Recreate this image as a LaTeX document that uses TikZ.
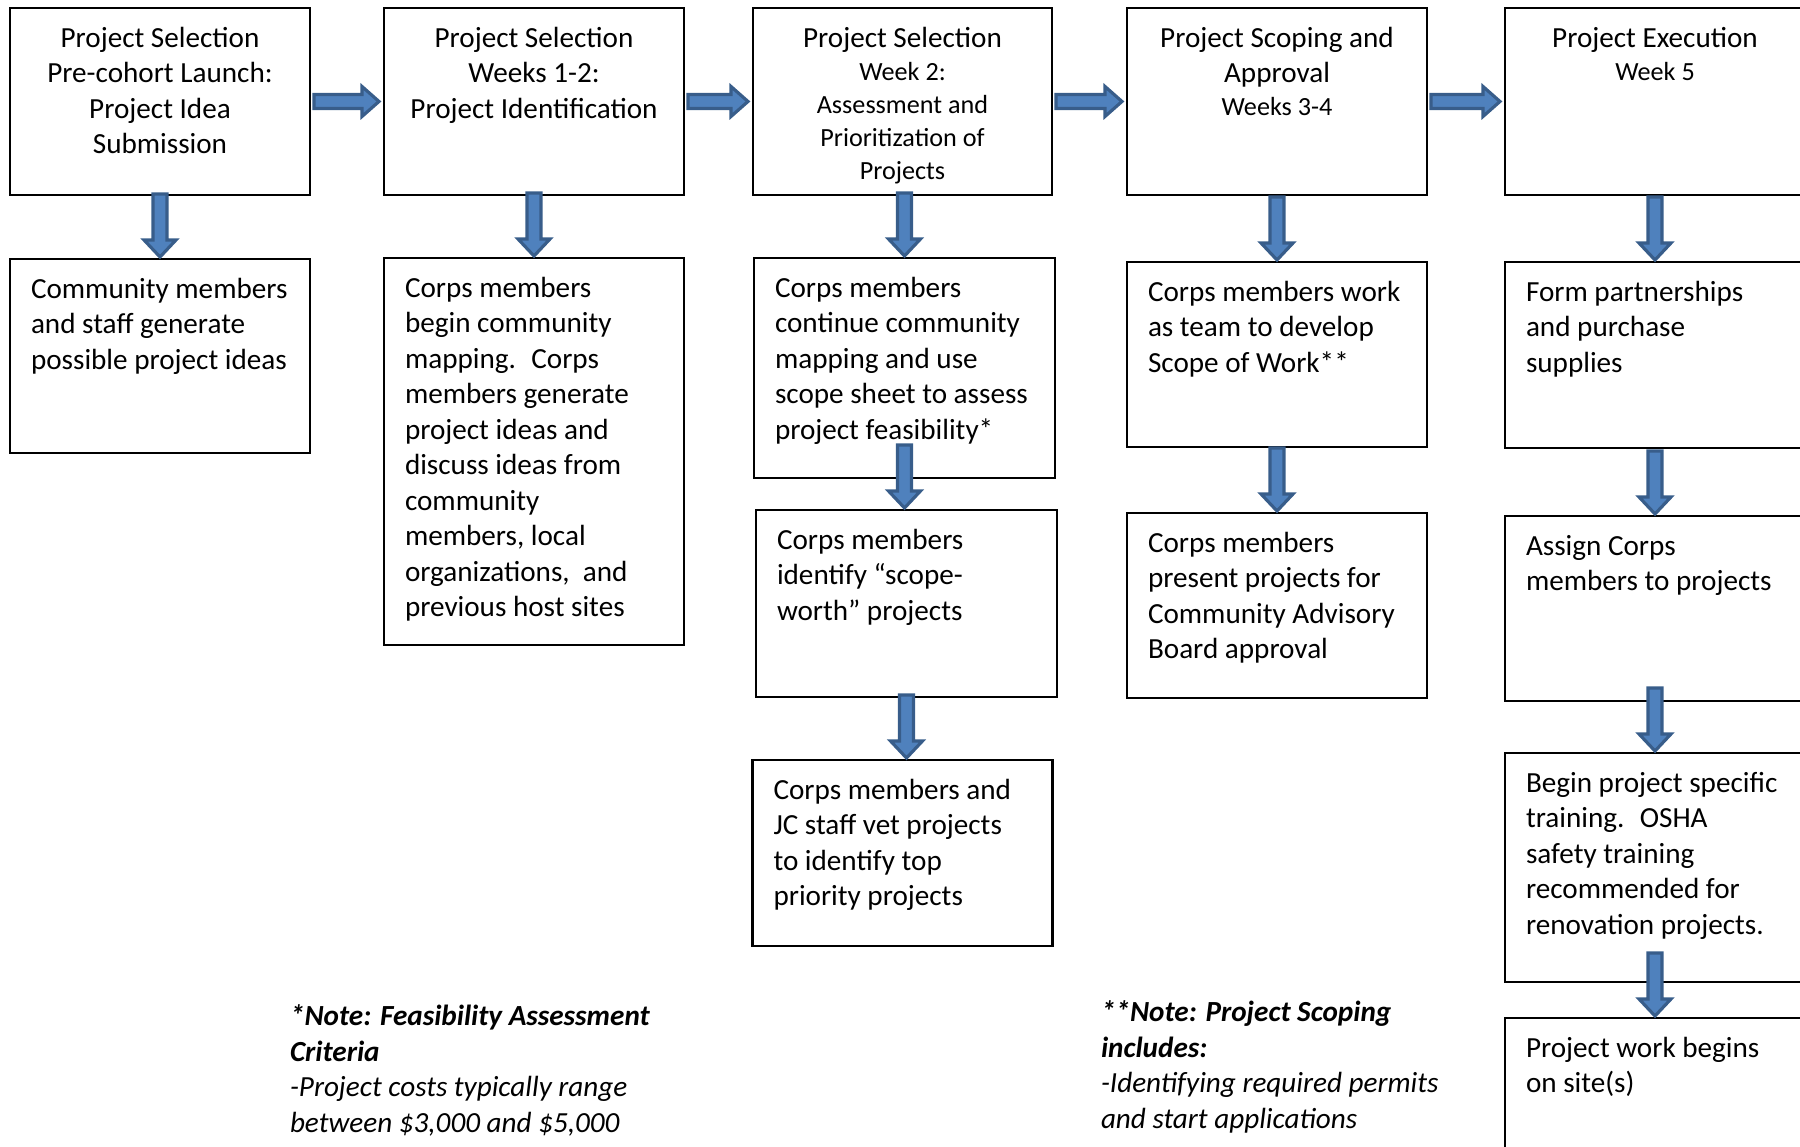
\documentclass[tikz,border=0pt]{standalone}
\usepackage{fontspec}
\setmainfont{Carlito}
\usepackage{tikz}
\usetikzlibrary{positioning,calc}

\definecolor{arrowfill}{HTML}{4F81BD}
\definecolor{arrowedge}{HTML}{385D8A}
\newcommand{\wkfont}{\fontsize{7.45pt}{9.4pt}\selectfont}

\begin{document}
\begin{tikzpicture}[outer sep=0pt,
    stage/.style={rectangle, draw, line width=0.7pt, minimum width=3cm, minimum height=1.87cm},
    task/.style={rectangle, draw, line width=0.7pt, minimum width=3cm},
    stagetext/.style={anchor=north, yshift=-0.19cm, inner sep=0pt, align=center, font=\fontsize{8.3pt}{10.1pt}\selectfont},
    tasktext/.style={anchor=north west, xshift=0.21cm, yshift=-0.19cm, inner sep=0pt, align=left, font=\fontsize{8.3pt}{10.1pt}\selectfont},
    notetext/.style={anchor=north west, inner sep=0pt, align=left, font=\fontsize{8.3pt}{10.1pt}\selectfont\itshape},
    downarrow/.style={draw=arrowedge, fill=arrowfill, line width=0.9pt, to path={let \p1=(\tikztostart), \p2=(\tikztotarget) in
        (\x1-0.07cm,\y2+0.65cm) -- (\x1-0.07cm,\y2+0.19cm) -- (\x1-0.16cm,\y2+0.19cm) -- (\x1,\y2+0.02cm)
        -- (\x1+0.16cm,\y2+0.19cm) -- (\x1+0.07cm,\y2+0.19cm) -- (\x1+0.07cm,\y2+0.65cm) -- cycle}},
    rightarrow/.style={draw=arrowedge, fill=arrowfill, line width=0.9pt, to path={let \p1=(\tikztostart), \p2=(\tikztotarget) in
        (\x1+0.04cm,\y1+0.07cm) -- (\x2-0.22cm,\y1+0.07cm) -- (\x2-0.22cm,\y1+0.15cm) -- (\x2-0.05cm,\y1)
        -- (\x2-0.22cm,\y1-0.15cm) -- (\x2-0.22cm,\y1-0.07cm) -- (\x1+0.04cm,\y1-0.07cm) -- cycle}}]

    \useasboundingbox (0,0) rectangle (18,-11.47);

    % stages
    \node (t1) [stage] at (1.60,-1.015) {};
    \node (t2) [stage] at (5.34,-1.015) {};
    \node (t3) [stage, minimum width=2.99cm] at (9.025,-1.015) {};
    \node (t4) [stage] at (12.77,-1.015) {};
    \node (t5) [stage] at (16.55,-1.015) {};

    \node (t1txt) [stagetext] at (t1.north) {Project Selection\\Pre-cohort Launch:\\Project Idea\\Submission};
    \node (t2txt) [stagetext] at (t2.north) {Project Selection\\Weeks 1-2:\\Project Identification};
    \node (t3txt) [stagetext, font=\wkfont] at (t3.north) {{\fontsize{8.3pt}{10.1pt}\selectfont Project Selection}\\Week 2:\\Assessment and\\Prioritization of\\Projects};
    \node (t4txt) [stagetext] at (t4.north) {Project Scoping and\\Approval\\[-0.8pt]{\wkfont Weeks 3-4}};
    \node (t5txt) [stagetext] at (t5.north) {Project Execution\\[-0.6pt]{\wkfont Week 5}};

    % tasks
    \node (b1) [task, minimum height=1.94cm, below=0.64cm of t1] {};
    \node (b2) [task, minimum height=3.87cm, below=0.63cm of t2] {};
    \node (b3) [task, minimum width=3.01cm, minimum height=2.20cm, below=0.63cm of t3, xshift=0.02cm] {};
    \node (c3) [task, minimum width=3.01cm, minimum height=1.87cm, below=0.32cm of b3, xshift=0.02cm] {};
    \node (d3) [task, minimum height=1.86cm, below=0.63cm of c3, xshift=-0.04cm] {};
    \node (b4) [task, minimum height=1.85cm, below=0.67cm of t4] {};
    \node (c4) [task, minimum height=1.85cm, below=0.66cm of b4] {};
    \node (b5) [task, minimum height=1.86cm, below=0.67cm of t5] {};
    \node (c5) [task, minimum height=1.85cm, below=0.68cm of b5] {};
    \node (d5) [task, minimum height=2.29cm, below=0.52cm of c5] {};
    \node (e5) [task, minimum height=1.87cm, below=0.36cm of d5] {};

    \node (b1txt) [tasktext] at (b1.north west) {Community members\\and staff generate\\possible project ideas};
    \node (b2txt) [tasktext] at (b2.north west) {Corps members\\begin community\\mapping.~ Corps\\members generate\\project ideas and\\discuss ideas from\\community\\members, local\\organizations,~ and\\previous host sites};
    \node (b3txt) [tasktext] at (b3.north west) {Corps members\\continue community\\mapping and use\\scope sheet to assess\\project feasibility*};
    \node (c3txt) [tasktext] at (c3.north west) {Corps members\\identify “scope-\\worth” projects};
    \node (d3txt) [tasktext] at (d3.north west) {Corps members and\\JC staff vet projects\\to identify top\\priority projects};
    \node (b4txt) [tasktext] at (b4.north west) {Corps members work\\as team to develop\\Scope of Work**};
    \node (c4txt) [tasktext] at (c4.north west) {Corps members\\present projects for\\Community Advisory\\Board approval};
    \node (b5txt) [tasktext] at (b5.north west) {Form partnerships\\and purchase\\supplies};
    \node (c5txt) [tasktext] at (c5.north west) {Assign Corps\\members to projects};
    \node (d5txt) [tasktext] at (d5.north west) {Begin project specific\\training.~ OSHA\\safety training\\recommended for\\renovation projects.};
    \node (e5txt) [tasktext] at (e5.north west) {Project work begins\\on site(s)};

    % notes
    \node (note1) [notetext] at (2.90,-10.05) {\textbf{*Note: Feasibility Assessment}\\\textbf{Criteria}\\-Project costs typically range\\between \$3,000 and \$5,000};
    \node (note2) [notetext] at (11.01,-10.01) {\textbf{**Note: Project Scoping}\\\textbf{includes:}\\-Identifying required permits\\and start applications};

    % arrows
    \draw[rightarrow] (t1.east) to (t2.west);
    \draw[rightarrow] (t2.east) to (t3.west);
    \draw[rightarrow] (t3.east) to (t4.west);
    \draw[rightarrow] (t4.east) to (t5.west);

    \draw[downarrow] (t1.south) to (t1.south |- b1.north);
    \draw[downarrow] (t2.south) to (t2.south |- b2.north);
    \draw[downarrow] (b3.north |- t3.south) to (b3.north);
    \draw[downarrow] (b3.south) to (b3.south |- c3.north);
    \draw[downarrow] (c3.south) to (c3.south |- d3.north);
    \draw[downarrow] (t4.south) to (t4.south |- b4.north);
    \draw[downarrow] (b4.south) to (b4.south |- c4.north);
    \draw[downarrow] (t5.south) to (t5.south |- b5.north);
    \draw[downarrow] (b5.south) to (b5.south |- c5.north);
    \draw[downarrow] (c5.south) to (c5.south |- d5.north);
    \draw[downarrow] (d5.south) to (d5.south |- e5.north);
\end{tikzpicture}
\end{document}
